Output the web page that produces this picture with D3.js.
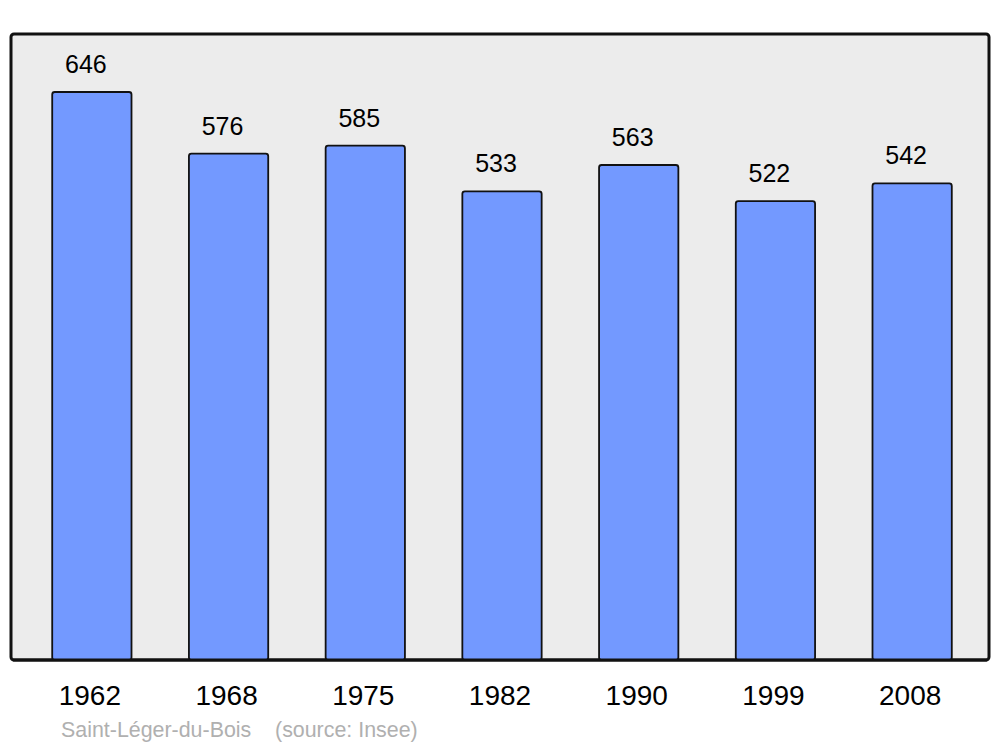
<!DOCTYPE html>
<html><head><meta charset="utf-8">
<script src="https://cdn.jsdelivr.net/npm/d3@7"></script>
<style>body{margin:0;background:#fff}svg{display:block}text{font-family:"Liberation Sans",Arial,sans-serif}</style>
</head><body>
<script>
const years = ["1962","1968","1975","1982","1990","1999","2008"];
const population = [646,576,585,533,563,522,542];
const sourceText = "Saint-Léger-du-Bois    (source: Insee)";

const W = 1000, H = 747;
const svg = d3.select("body").append("svg").attr("width", W).attr("height", H);

const panel = {x0: 11, x1: 989, y0: 34, y1: 660};
svg.append("rect").attr("x", panel.x0).attr("y", panel.y0)
  .attr("width", panel.x1 - panel.x0).attr("height", panel.y1 - panel.y0)
  .attr("rx", 3).attr("fill", "#ececec").attr("stroke", "#111").attr("stroke-width", 3);

const x = d3.scaleBand().domain(years).range([23.5, 980.5]).paddingInner(0.42).paddingOuter(0.21);
const y = d3.scaleLinear().domain([0, 646]).range([660, 92]);

svg.selectAll("rect.bar").data(years).join("rect").attr("class", "bar")
  .attr("x", d => x(d)).attr("width", x.bandwidth())
  .attr("y", (d, i) => y(population[i]))
  .attr("height", (d, i) => y(0) - y(population[i]))
  .attr("rx", 2.5)
  .attr("fill", "#7399ff").attr("stroke", "#111").attr("stroke-width", 1.8);

// redraw the bottom border over the bars
svg.append("line").attr("x1", panel.x0 + 2).attr("x2", panel.x1 - 2).attr("y1", panel.y1).attr("y2", panel.y1)
  .attr("stroke", "#111").attr("stroke-width", 3);

svg.selectAll("text.val").data(years).join("text").attr("class", "val")
  .attr("x", d => x(d) + x.bandwidth() / 2 - 6)
  .attr("y", (d, i) => y(population[i]) - 19)
  .attr("text-anchor", "middle").attr("font-size", 25).attr("fill", "#000")
  .text((d, i) => population[i]);

const xAxis = d3.axisBottom(x).tickSize(0).tickPadding(0);
const ax = svg.append("g").attr("transform", `translate(-2,${panel.y1})`).call(xAxis);
ax.select(".domain").remove();
ax.selectAll("text").attr("font-size", 28).attr("fill", "#000")
  .attr("font-family", '"Liberation Sans",Arial,sans-serif')
  .attr("dy", null).attr("y", 45);

svg.append("text").attr("x", 61).attr("y", 737).attr("font-size", 21.4).attr("fill", "#b0b0b0")
  .attr("xml:space", "preserve").style("white-space", "pre").text(sourceText);
</script>
</body></html>
